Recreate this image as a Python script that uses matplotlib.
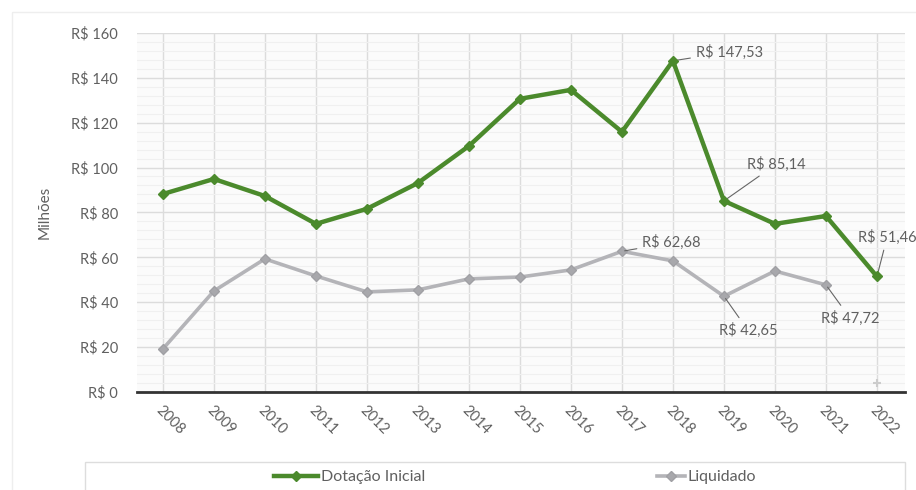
import numpy as np
import matplotlib.pyplot as plt
from matplotlib.patches import Rectangle
from matplotlib.ticker import MultipleLocator

plt.rcParams['font.family'] = ['Lato', 'DejaVu Sans']

anos = np.arange(2008, 2023)
dotacao = [88.2, 94.9, 87.3, 74.9, 81.6, 93.1, 109.6, 130.6, 134.6, 115.9,
           147.53, 85.14, 74.9, 78.4, 51.46]
liquidado = [19.2, 45.0, 59.3, 51.7, 44.6, 45.5, 50.4, 51.2, 54.4, 62.68,
             58.4, 42.65, 53.9, 47.72, np.nan]
liq_2022 = 4.0

y_ticks = [0, 20, 40, 60, 80, 100, 120, 140, 160]
y_labels = ['R$ %d' % v for v in y_ticks]

verde = '#4b8a2c'
cinza = '#b4b4b8'
texto = '#606060'

fig = plt.figure(figsize=(9.16, 4.9), dpi=100)
ax = fig.add_axes([0.150, 0.2, 0.838, 0.733])

l1, = ax.plot(anos, dotacao, color=verde, lw=3.2, marker='D', ms=5, zorder=4)
l2, = ax.plot(anos, liquidado, color=cinza, lw=2.6, marker='D', ms=5,
              markerfacecolor='#a8a8ac', markeredgecolor='#a0a0a4', zorder=3)
ax.plot([2022], [liq_2022], marker='+', color='#cccccc', ms=6, mew=1.5, zorder=3)

ax.set_xlim(2007.5, 2022.55)
ax.set_ylim(0, 160)
ax.set_yticks(y_ticks)
ax.set_yticklabels(y_labels)
ax.set_xticks(anos)
ax.set_xticklabels([str(a) for a in anos], rotation=-45, ha='left',
                   rotation_mode='anchor')
ax.yaxis.set_minor_locator(MultipleLocator(4))
ax.grid(True, which='major', color='#dcdcdc', lw=1)
ax.grid(True, which='minor', axis='y', color='#f0f0f0', lw=0.8)
ax.set_axisbelow(True)
ax.set_facecolor('#fbfbfb')
for s in ['top', 'right', 'left']:
    ax.spines[s].set_visible(False)
ax.spines['bottom'].set_color('#333333')
ax.spines['bottom'].set_linewidth(2)
ax.tick_params(axis='both', length=0, colors=texto, labelsize=10.5)
ax.tick_params(axis='y', pad=14, which='both')
ax.tick_params(axis='x', pad=8)
ax.tick_params(axis='y', which='minor', length=0)
ax.set_ylabel('Milhões', color=texto, fontsize=11, labelpad=14)

# rótulos com linha de chamada
rotulos = [
    (2018, dotacao[10], 'R$ 147,53', 2018.45, 151.5, 'left'),
    (2019, dotacao[11], 'R$ 85,14', 2019.45, 101.5, 'left'),
    (2017, liquidado[9], 'R$ 62,68', 2017.4, 66.5, 'left'),
    (2019, liquidado[11], 'R$ 42,65', 2019.47, 27.5, 'center'),
    (2021, liquidado[13], 'R$ 47,72', 2021.47, 33.0, 'center'),
    (2022, dotacao[14], 'R$ 51,46', 2022.2, 69.0, 'center'),
]
for x, y, txt, tx, ty, ha in rotulos:
    ax.annotate(txt, xy=(x, y), xytext=(tx, ty), ha=ha, va='center',
                fontsize=10.5, color=texto, annotation_clip=False,
                arrowprops=dict(arrowstyle='-', color='#666666', lw=0.8,
                                shrinkA=2, shrinkB=2))

# moldura externa e caixa da legenda
fig.patches.append(Rectangle((0.013, -0.01), 1.0, 0.985, transform=fig.transFigure,
                             fill=False, edgecolor='#eeeeee', lw=1, zorder=0))
fig.patches.append(Rectangle((0.093, -0.01), 0.895, 0.067, transform=fig.transFigure,
                             fill=False, edgecolor='#dddddd', lw=1, zorder=0))
fig.legend([l1], ['Dotação Inicial'], loc='center left',
           bbox_to_anchor=(0.29, 0.026), frameon=False, borderpad=0,
           handlelength=2.8, handletextpad=0.15, fontsize=11.5, labelcolor=texto)
fig.legend([l2], ['Liquidado'], loc='center left',
           bbox_to_anchor=(0.708, 0.026), frameon=False, borderpad=0,
           handlelength=1.8, handletextpad=0.15, fontsize=11.5, labelcolor=texto)

fig.savefig('out.png', dpi=100, facecolor='white')
